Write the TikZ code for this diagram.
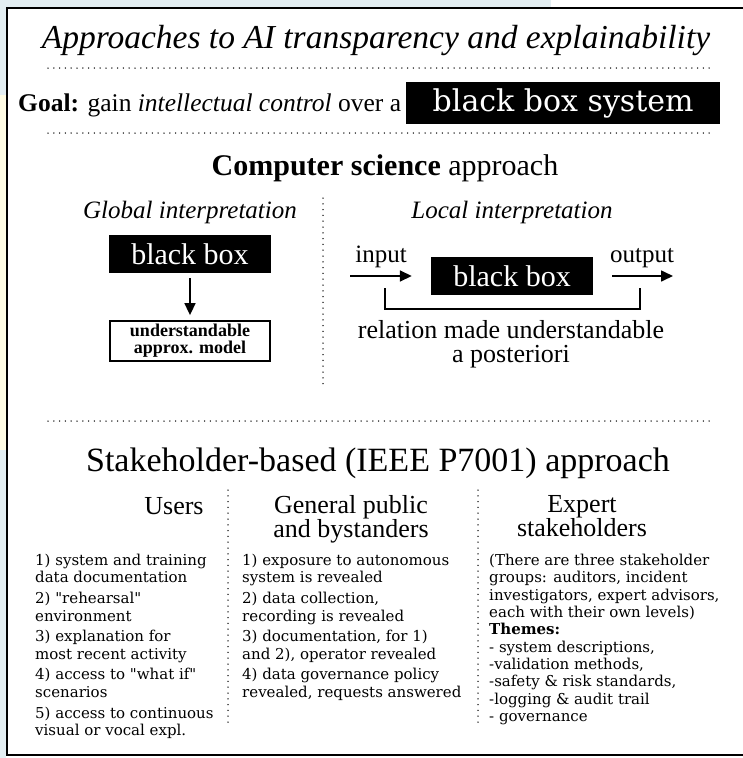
\documentclass[tikz,border=0pt]{standalone}
\usepackage{fontspec}
\setmainfont{Liberation Serif}
\newfontfamily\listfont{DejaVu Serif}
\usetikzlibrary{positioning,arrows.meta}
\definecolor{pageblue}{HTML}{E3EEF2}
\definecolor{pageyellow}{HTML}{FFFCE4}
\tikzset{
  dotrule/.style={line width=1.5pt, line cap=round, dash pattern=on 0pt off 5.8pt},
  blackbox/.style={fill=black, text=white, inner sep=0pt, minimum width=162pt,
    minimum height=38pt, font=\fontsize{30}{30}\selectfont},
  modelbox/.style={draw, line width=1.8pt, inner sep=0pt, minimum width=160pt,
    minimum height=40pt, align=center, font=\bfseries\fontsize{18}{17}\selectfont},
  subhead/.style={font=\itshape\fontsize{25}{25}\selectfont, anchor=base, inner sep=0pt},
  colhead/.style={font=\fontsize{26}{22}\selectfont, align=center, anchor=north, inner sep=0pt},
  listtext/.style={font=\listfont\fontsize{15}{17.3}\selectfont, align=left,
    anchor=north west, inner sep=0pt},
  flow/.style={line width=1.6pt, -{Triangle[length=12pt,width=11pt]}},
}
\begin{document}
\begin{tikzpicture}[x=1pt,y=-1pt]
\useasboundingbox (0,0) rectangle (743,758);
% page round the frame
\fill[pageblue] (0,0) rectangle (551,8);
\fill[pageblue] (0,0) rectangle (6,758);
\fill[pageyellow] (0,95) rectangle (6,450);
\fill[white] (7,8) rectangle (743,755);
\draw[line width=2pt] (760,8) -- (7,8) -- (7,755) -- (760,755);

% title and goal
\node[anchor=base, inner sep=0pt, font=\itshape\fontsize{33.5}{33}\selectfont] (title) at (376,48)
  {Approaches to AI transparency and explainability};
\draw[dotrule] (48,68) -- (712,68);
\node[anchor=base west, inner sep=0pt, font=\fontsize{25.5}{26}\selectfont] (goal) at (18,111)
  {\textbf{Goal:} gain \textit{intellectual control} over a};
\node[anchor=base west, fill=black, text=white, inner xsep=0pt, inner ysep=6pt,
  minimum width=314pt, font=\listfont\fontsize{30}{30}\selectfont] (goalbox) at (406,111)
  {black box system};
\draw[dotrule] (48,133) -- (712,133);

% computer science approach
\node[anchor=base, inner sep=0pt, font=\fontsize{30}{30}\selectfont] (cs) at (385,175)
  {\textbf{Computer science} approach};
\node[subhead] (global) at (190,218) {Global interpretation};
\node[subhead] (local) at (512,218) {Local interpretation};
\draw[dotrule] (323,198) -- (323,387);

\node[blackbox] (bbl) at (190,254) {black box};
\node[modelbox] (approx) at (190,341) {understandable\\approx. model};
\draw[flow, shorten <=5pt, shorten >=5pt] (bbl) -- (approx);

\node[blackbox] (bbr) at (512,276) {black box};
\node[anchor=base, inner sep=0pt, font=\fontsize{25}{25}\selectfont] (input) at (381,262) {input};
\node[anchor=base, inner sep=0pt, font=\fontsize{25}{25}\selectfont] (output) at (642,262) {output};
\coordinate (inStart) at (350,276);
\coordinate (outEnd) at (673,276);
\draw[flow, shorten >=19pt] (inStart) -- (bbr.west);
\draw[flow, shorten <=19pt] (bbr.east) -- (outEnd);
\coordinate (brL) at (385,288);
\coordinate (brR) at (640,288);
\draw[line width=1.6pt] (brL) -- ++(0,21) -| (brR);
\node[anchor=base, inner sep=0pt, font=\fontsize{26}{26}\selectfont] (relation)
  at (511,338) {relation made understandable};
\node[anchor=base, inner sep=0pt, font=\fontsize{26}{26}\selectfont] (posteriori)
  at (511,362) {a posteriori};

\draw[dotrule] (48,421) -- (712,421);

% stakeholder approach
\node[anchor=base, inner sep=0pt, font=\fontsize{34}{34}\selectfont] (stake) at (378,471)
  {Stakeholder-based (IEEE P7001) approach};
\node[colhead] (users) at (174,497) {Users};
\node[colhead] (public) at (351,495) {General public\\and bystanders};
\node[colhead] (expert) at (582,495) {Expert\\stakeholders};
\draw[dotrule] (228,490) -- (228,727);
\draw[dotrule] (478,490) -- (478,727);

\node[listtext] (userlist) at (35,554) {1) system and training\\data documentation\\[3.5pt]
  2) "rehearsal"\\environment\\[3.5pt]
  3) explanation for\\most recent activity\\[3.5pt]
  4) access to "what if"\\scenarios\\[3.5pt]
  5) access to continuous\\visual or vocal expl.};
\node[listtext] (publiclist) at (242,554) {1) exposure to autonomous\\system is revealed\\[3.5pt]
  2) data collection,\\recording is revealed\\[3.5pt]
  3) documentation, for 1)\\and 2), operator revealed\\[3.5pt]
  4) data governance policy\\revealed, requests answered};
\node[listtext] (expertlist) at (489,554) {(There are three stakeholder\\groups: auditors, incident\\
  investigators, expert advisors,\\each with their own levels)\\\textbf{Themes:}\\
  - system descriptions,\\-validation methods,\\-safety \& risk standards,\\
  -logging \& audit trail\\- governance};
\end{tikzpicture}
\end{document}
